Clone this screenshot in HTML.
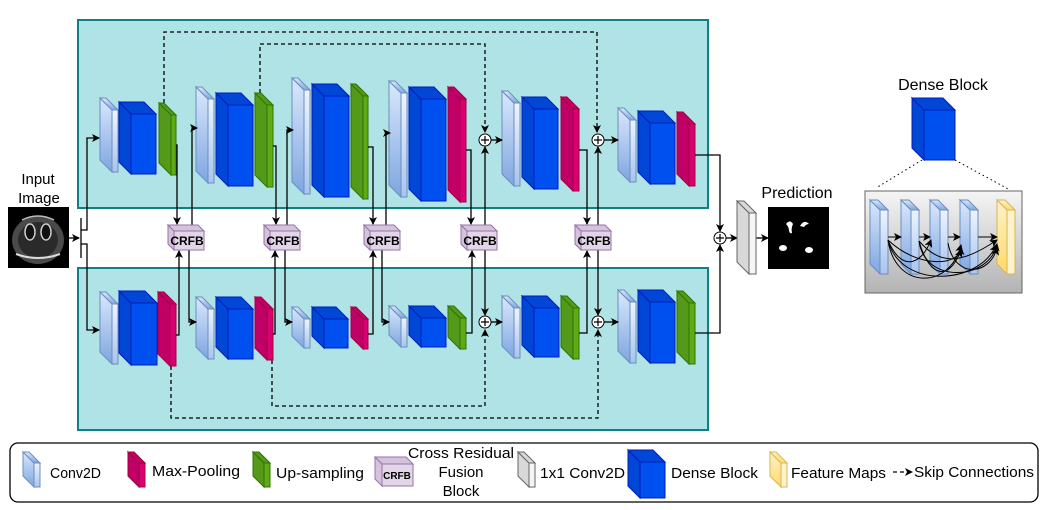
<!DOCTYPE html>
<html><head><meta charset="utf-8"><style>
body{margin:0;background:#fff}
svg{display:block;font-family:"Liberation Sans",sans-serif}
.cv path{fill:url(#gcv);stroke:#6c8ebf;stroke-width:1}
.cv rect{fill:url(#gcf);stroke:#6c8ebf;stroke-width:1}
.db path{fill:#0047d6;stroke:#001dbc}
.db rect{fill:#0050ef;stroke:#001dbc}
.rd path{fill:#c00066;stroke:#a50040}
.rd rect{fill:#d80073;stroke:#a50040}
.gr path{fill:#54991a;stroke:#2d7600}
.gr rect{fill:#60a917;stroke:#2d7600}
.cr path{fill:#d5c3dd;stroke:#9673a6}
.cr rect{fill:#e1d5e7;stroke:#9673a6}
.gy path{fill:#d8d8d8;stroke:#666}
.gy rect{fill:#f5f5f5;stroke:#666}
.yl path{fill:url(#gyl);stroke:#d6b656}
.yl rect{fill:#fff2cc;stroke:#d6b656}
.ln{fill:none;stroke:#000;stroke-width:1.3}
.ds{fill:none;stroke:#000;stroke-width:1.3;stroke-dasharray:4 3}
.ct{font-weight:bold;font-size:12px}
</style></head><body>
<svg width="1046" height="510" viewBox="0 0 1046 510" xmlns="http://www.w3.org/2000/svg">
<defs>
<linearGradient id="gcv" x1="0" y1="0" x2="0" y2="1"><stop offset="0" stop-color="#dae8fc"/><stop offset="1" stop-color="#7ea6e0"/></linearGradient>
<linearGradient id="gcf" x1="0" y1="0" x2="0" y2="1"><stop offset="0" stop-color="#eef4fe"/><stop offset="1" stop-color="#a8c4ee"/></linearGradient>
<linearGradient id="gyl" x1="0" y1="0" x2="0" y2="1"><stop offset="0" stop-color="#fff2cc"/><stop offset="1" stop-color="#ffd966"/></linearGradient>
<linearGradient id="ggb" x1="0" y1="0" x2="0" y2="1"><stop offset="0" stop-color="#f5f5f5"/><stop offset="1" stop-color="#b3b3b3"/></linearGradient>
<marker id="a" markerWidth="8" markerHeight="8" refX="7" refY="4" orient="auto" markerUnits="userSpaceOnUse"><path d="M0,0 L8,4 L0,8 L2,4z" fill="#000"/></marker>
</defs>

<!-- panels -->
<rect x="78" y="20" width="630" height="188" fill="#b0e3e6" stroke="#0e8088" stroke-width="2"/>
<rect x="78" y="268" width="630" height="162" fill="#b0e3e6" stroke="#0e8088" stroke-width="2"/>
<rect x="10" y="443" width="1028" height="59" rx="8" fill="#fff" stroke="#000" stroke-width="1.3"/>

<!-- dashed skips -->
<path class="ds" d="M164 103 V32 H597 V132" marker-end="url(#a)"/>
<path class="ds" d="M260 93 V44 H485 V132" marker-end="url(#a)"/>
<path class="ds" d="M171 366 V418 H598 V330" marker-end="url(#a)"/>
<path class="ds" d="M272 360 V406 H485 V330" marker-end="url(#a)"/>

<!-- conv slabs -->
<g class="cv">
<path d="M100 98 l12 12 v62 l-12 -12z"/><path d="M100 98 h6 l12 12 h-6z"/><rect x="112" y="110" width="6" height="62"/>
<path d="M196 87 l12 12 v84 l-12 -12z"/><path d="M196 87 h6 l12 12 h-6z"/><rect x="208" y="99" width="6" height="84"/>
<path d="M292 78 l12 12 v104 l-12 -12z"/><path d="M292 78 h6 l12 12 h-6z"/><rect x="304" y="90" width="6" height="104"/>
<path d="M389 81 l12 12 v104 l-12 -12z"/><path d="M389 81 h6 l12 12 h-6z"/><rect x="401" y="93" width="6" height="104"/>
<path d="M502 91 l12 12 v83 l-12 -12z"/><path d="M502 91 h6 l12 12 h-6z"/><rect x="514" y="103" width="6" height="83"/>
<path d="M618 108 l12 12 v62 l-12 -12z"/><path d="M618 108 h6 l12 12 h-6z"/><rect x="630" y="120" width="6" height="62"/>
<path d="M100 292 l12 12 v60 l-12 -12z"/><path d="M100 292 h6 l12 12 h-6z"/><rect x="112" y="304" width="6" height="60"/>
<path d="M196 297 l12 12 v50 l-12 -12z"/><path d="M196 297 h6 l12 12 h-6z"/><rect x="208" y="309" width="6" height="50"/>
<path d="M292 307 l12 12 v29 l-12 -12z"/><path d="M292 307 h6 l12 12 h-6z"/><rect x="304" y="319" width="6" height="29"/>
<path d="M389 306 l12 12 v29 l-12 -12z"/><path d="M389 306 h6 l12 12 h-6z"/><rect x="401" y="318" width="6" height="29"/>
<path d="M502 296 l12 12 v50 l-12 -12z"/><path d="M502 296 h6 l12 12 h-6z"/><rect x="514" y="308" width="6" height="50"/>
<path d="M618 290 l12 12 v61 l-12 -12z"/><path d="M618 290 h6 l12 12 h-6z"/><rect x="630" y="302" width="6" height="61"/>
</g>

<!-- dense blocks -->
<g class="db">
<path d="M119 102 l12 12 v60 l-12 -12z"/><path d="M119 102 h25 l12 12 h-25z"/><rect x="131" y="114" width="25" height="60"/>
<path d="M216 93 l12 12 v81 l-12 -12z"/><path d="M216 93 h25 l12 12 h-25z"/><rect x="228" y="105" width="25" height="81"/>
<path d="M312 84 l12 12 v101 l-12 -12z"/><path d="M312 84 h25 l12 12 h-25z"/><rect x="324" y="96" width="25" height="101"/>
<path d="M409 87 l12 12 v102 l-12 -12z"/><path d="M409 87 h25 l12 12 h-25z"/><rect x="421" y="99" width="25" height="102"/>
<path d="M522 97 l12 12 v80 l-12 -12z"/><path d="M522 97 h24 l12 12 h-24z"/><rect x="534" y="109" width="24" height="80"/>
<path d="M638 111 l12 12 v61 l-12 -12z"/><path d="M638 111 h25 l12 12 h-25z"/><rect x="650" y="123" width="25" height="61"/>
<path d="M119 291 l12 12 v62 l-12 -12z"/><path d="M119 291 h26 l12 12 h-26z"/><rect x="131" y="303" width="26" height="62"/>
<path d="M216 297 l12 12 v50 l-12 -12z"/><path d="M216 297 h25 l12 12 h-25z"/><rect x="228" y="309" width="25" height="50"/>
<path d="M312 307 l12 12 v29 l-12 -12z"/><path d="M312 307 h24 l12 12 h-24z"/><rect x="324" y="319" width="24" height="29"/>
<path d="M409 306 l12 12 v29 l-12 -12z"/><path d="M409 306 h25 l12 12 h-25z"/><rect x="421" y="318" width="25" height="29"/>
<path d="M522 296 l12 12 v49 l-12 -12z"/><path d="M522 296 h25 l12 12 h-25z"/><rect x="534" y="308" width="25" height="49"/>
<path d="M638 290 l12 12 v61 l-12 -12z"/><path d="M638 290 h25 l12 12 h-25z"/><rect x="650" y="302" width="25" height="61"/>
<path d="M912 98 l12 12 v50 l-12 -12z"/><path d="M912 98 h31 l12 12 h-31z"/><rect x="924" y="110" width="31" height="50"/>
<path d="M628 450 l12 12 v36 l-12 -12z"/><path d="M628 450 h25 l12 12 h-25z"/><rect x="640" y="462" width="25" height="36"/>
</g>

<!-- green -->
<g class="gr">
<path d="M159 103 l12 12 v60 l-12 -12z"/><path d="M159 103 h5 l12 12 h-5z"/><rect x="171" y="115" width="5" height="60"/>
<path d="M255 93 l12 12 v82 l-12 -12z"/><path d="M255 93 h6 l12 12 h-6z"/><rect x="267" y="105" width="6" height="82"/>
<path d="M351 84 l12 12 v103 l-12 -12z"/><path d="M351 84 h5 l12 12 h-5z"/><rect x="363" y="96" width="5" height="103"/>
<path d="M448 306 l12 12 v31 l-12 -12z"/><path d="M448 306 h6 l12 12 h-6z"/><rect x="460" y="318" width="6" height="31"/>
<path d="M561 296 l12 12 v51 l-12 -12z"/><path d="M561 296 h6 l12 12 h-6z"/><rect x="573" y="308" width="6" height="51"/>
<path d="M677 291 l12 12 v61 l-12 -12z"/><path d="M677 291 h6 l12 12 h-6z"/><rect x="689" y="303" width="6" height="61"/>
<path d="M253 452 l11 11 v24 l-11 -11z"/><path d="M253 452 h6 l11 11 h-6z"/><rect x="264" y="463" width="6" height="24"/>
</g>

<!-- red -->
<g class="rd">
<path d="M448 87 l12 12 v103 l-12 -12z"/><path d="M448 87 h6 l12 12 h-6z"/><rect x="460" y="99" width="6" height="103"/>
<path d="M561 97 l12 12 v82 l-12 -12z"/><path d="M561 97 h6 l12 12 h-6z"/><rect x="573" y="109" width="6" height="82"/>
<path d="M677 112 l12 12 v62 l-12 -12z"/><path d="M677 112 h6 l12 12 h-6z"/><rect x="689" y="124" width="6" height="62"/>
<path d="M158 292 l12 12 v62 l-12 -12z"/><path d="M158 292 h6 l12 12 h-6z"/><rect x="170" y="304" width="6" height="62"/>
<path d="M255 297 l12 12 v51 l-12 -12z"/><path d="M255 297 h6 l12 12 h-6z"/><rect x="267" y="309" width="6" height="51"/>
<path d="M351 307 l12 12 v30 l-12 -12z"/><path d="M351 307 h5 l12 12 h-5z"/><rect x="363" y="319" width="5" height="30"/>
<path d="M128 452 l11 11 v24 l-11 -11z"/><path d="M128 452 h6 l11 11 h-6z"/><rect x="139" y="463" width="6" height="24"/>
</g>

<!-- connectors -->
<path class="ln" d="M69 238 H79" marker-end="url(#a)"/>
<path class="ln" d="M81 218 V258"/>
<path class="ln" d="M81 230 H87 V138 H99" marker-end="url(#a)"/>
<path class="ln" d="M81 244 H87 V330 H99" marker-end="url(#a)"/>
<path class="ln" d="M176 145 H177 V224" marker-end="url(#a)"/>
<path class="ln" d="M192 225 V128 H197" marker-end="url(#a)"/>
<path class="ln" d="M273 146 H276 V224" marker-end="url(#a)"/>
<path class="ln" d="M287 225 V130 H293" marker-end="url(#a)"/>
<path class="ln" d="M368 147 H373 V224" marker-end="url(#a)"/>
<path class="ln" d="M386 225 V133 H390" marker-end="url(#a)"/>
<path class="ln" d="M466 150 H471 V224" marker-end="url(#a)"/>
<path class="ln" d="M485 225 V147" marker-end="url(#a)"/>
<path class="ln" d="M579 150 H587 V224" marker-end="url(#a)"/>
<path class="ln" d="M598 225 V147" marker-end="url(#a)"/>
<path class="ln" d="M491 140 H502" marker-end="url(#a)"/>
<path class="ln" d="M604 140 H618" marker-end="url(#a)"/>
<path class="ln" d="M695 155 H720 V231" marker-end="url(#a)"/>
<path class="ln" d="M176 335 H179 V251" marker-end="url(#a)"/>
<path class="ln" d="M189 250 V322 H196" marker-end="url(#a)"/>
<path class="ln" d="M273 334 H275 V251" marker-end="url(#a)"/>
<path class="ln" d="M285 250 V322 H292" marker-end="url(#a)"/>
<path class="ln" d="M368 334 H373 V251" marker-end="url(#a)"/>
<path class="ln" d="M382 250 V322 H389" marker-end="url(#a)"/>
<path class="ln" d="M466 333 H472 V251" marker-end="url(#a)"/>
<path class="ln" d="M485 250 V315" marker-end="url(#a)"/>
<path class="ln" d="M579 333 H587 V251" marker-end="url(#a)"/>
<path class="ln" d="M598 250 V315" marker-end="url(#a)"/>
<path class="ln" d="M491 322 H502" marker-end="url(#a)"/>
<path class="ln" d="M604 322 H618" marker-end="url(#a)"/>
<path class="ln" d="M695 333 H720 V245" marker-end="url(#a)"/>
<path class="ln" d="M726 238 H737" marker-end="url(#a)"/>
<path class="ln" d="M756 238 H768" marker-end="url(#a)"/>

<!-- plus circles -->
<g fill="#fff" stroke="#000" stroke-width="1">
<circle cx="485" cy="140" r="6"/><circle cx="598" cy="140" r="6"/>
<circle cx="485" cy="322" r="6"/><circle cx="598" cy="322" r="6"/>
<circle cx="720" cy="238" r="6"/>
</g>
<g stroke="#000" stroke-width="1.2">
<path d="M481 140h8M485 136v8M594 140h8M598 136v8M481 322h8M485 318v8M594 322h8M598 318v8M716 238h8M720 234v8"/>
</g>

<!-- CRFB -->
<g class="cr">
<path d="M168 225 l6 6 v19 l-6 -6z"/><path d="M168 225 h30 l6 6 h-30z"/><rect x="174" y="231" width="30" height="19"/>
<path d="M264 225 l6 6 v19 l-6 -6z"/><path d="M264 225 h30 l6 6 h-30z"/><rect x="270" y="231" width="30" height="19"/>
<path d="M364 225 l6 6 v19 l-6 -6z"/><path d="M364 225 h30 l6 6 h-30z"/><rect x="370" y="231" width="30" height="19"/>
<path d="M461 225 l6 6 v19 l-6 -6z"/><path d="M461 225 h30 l6 6 h-30z"/><rect x="467" y="231" width="30" height="19"/>
<path d="M575 225 l6 6 v19 l-6 -6z"/><path d="M575 225 h30 l6 6 h-30z"/><rect x="581" y="231" width="30" height="19"/>
<path d="M375 457 l7 7 v22 l-7 -7z"/><path d="M375 457 h31 l7 7 h-31z"/><rect x="382" y="464" width="31" height="22"/>
</g>
<g class="ct">
<text x="187" y="245" text-anchor="middle">CRFB</text>
<text x="283" y="245" text-anchor="middle">CRFB</text>
<text x="383" y="245" text-anchor="middle">CRFB</text>
<text x="480" y="245" text-anchor="middle">CRFB</text>
<text x="594" y="245" text-anchor="middle">CRFB</text>
<text x="397" y="479" text-anchor="middle" style="font-size:10px">CRFB</text>
</g>

<!-- input image -->
<text x="38" y="184" font-size="15" text-anchor="middle">Input</text>
<text x="39" y="203" font-size="15" text-anchor="middle">Image</text>
<rect x="8" y="207" width="61" height="61" fill="#000"/>
<ellipse cx="38" cy="240" rx="26" ry="24" fill="#4a4a4a"/>
<ellipse cx="38" cy="240" rx="20" ry="18" fill="#2a2a2a"/>
<ellipse cx="30" cy="232" rx="5" ry="8" fill="#111" stroke="#ccc" stroke-width="1.5"/>
<ellipse cx="46" cy="232" rx="5" ry="8" fill="#111" stroke="#ccc" stroke-width="1.5"/>
<path d="M16 254 Q38 262 60 254" stroke="#ddd" stroke-width="2" fill="none"/>
<path d="M22 220 Q38 212 54 220" stroke="#bbb" stroke-width="1.5" fill="none"/>

<!-- 1x1 conv -->
<g class="gy">
<path d="M737 201 l12 12 v61 l-12 -12z"/><path d="M737 201 h7 l12 12 h-7z"/><rect x="749" y="213" width="7" height="61"/>
<path d="M518 452 l11 11 v24 l-11 -11z"/><path d="M518 452 h6 l11 11 h-6z"/><rect x="529" y="463" width="6" height="24"/>
</g>

<!-- prediction -->
<text x="797" y="198" font-size="16" text-anchor="middle">Prediction</text>
<rect x="768" y="207" width="61" height="62" fill="#000"/>
<g fill="#fff">
<path d="M786 224 q4 -5 7 0 q-2 4 -1 9 q-2 1 -3 -2 q0 -4 -3 -7z"/>
<path d="M800 226 q4 -7 9 -2 q-3 0 -5 3 z"/>
<ellipse cx="783" cy="248" rx="4" ry="3"/>
<ellipse cx="809" cy="250" rx="4" ry="3"/>
</g>

<!-- dense block detail -->
<text x="943" y="90" font-size="16" text-anchor="middle">Dense Block</text>
<path d="M922 160 L876 188 M955 160 L1010 190" stroke="#000" stroke-dasharray="1.5 3" fill="none"/>
<rect x="865" y="191" width="157" height="102" fill="url(#ggb)" stroke="#666"/>
<g class="cv">
<path d="M870 200 l10 10 v64 l-10 -10z"/><path d="M870 200 h8 l10 10 h-8z"/><rect x="880" y="210" width="8" height="64"/>
<path d="M901 200 l10 10 v64 l-10 -10z"/><path d="M901 200 h8 l10 10 h-8z"/><rect x="911" y="210" width="8" height="64"/>
<path d="M930 200 l10 10 v64 l-10 -10z"/><path d="M930 200 h8 l10 10 h-8z"/><rect x="940" y="210" width="8" height="64"/>
<path d="M960 200 l10 10 v64 l-10 -10z"/><path d="M960 200 h8 l10 10 h-8z"/><rect x="970" y="210" width="8" height="64"/>
<path d="M23 452 l11 11 v24 l-11 -11z"/><path d="M23 452 h6 l11 11 h-6z"/><rect x="34" y="463" width="6" height="24"/>
</g>
<g class="yl">
<path d="M997 200 l10 10 v64 l-10 -10z"/><path d="M997 200 h8 l10 10 h-8z"/><rect x="1007" y="210" width="8" height="64"/>
<path d="M770 452 l11 11 v24 l-11 -11z"/><path d="M770 452 h6 l11 11 h-6z"/><rect x="781" y="463" width="6" height="24"/>
</g>
<g fill="none" stroke="#000" stroke-width="1">
<path d="M888 237 H901" marker-end="url(#a)"/>
<path d="M919 237 H930" marker-end="url(#a)"/>
<path d="M948 237 H960" marker-end="url(#a)"/>
<path d="M978 237 H997" marker-end="url(#a)"/>
<path d="M888 240 C900 270 920 268 931 240" marker-end="url(#a)"/>
<path d="M888 240 C895 290 950 290 961 245" marker-end="url(#a)"/>
<path d="M888 240 C900 290 980 285 996 245" marker-end="url(#a)"/>
<path d="M888 240 C920 270 960 265 961 248" marker-end="url(#a)"/>
<path d="M919 241 C925 285 990 280 997 244" marker-end="url(#a)"/>
<path d="M919 241 C940 265 960 265 997 240" marker-end="url(#a)"/>
<path d="M948 243 C955 280 990 275 997 248" marker-end="url(#a)"/>
<path d="M919 241 C930 280 950 280 961 250" marker-end="url(#a)"/>
</g>

<!-- legend text -->
<g font-size="15">
<text x="50" y="478" textLength="51" lengthAdjust="spacingAndGlyphs">Conv2D</text>
<text x="152" y="476" textLength="88" lengthAdjust="spacingAndGlyphs">Max-Pooling</text>
<text x="276" y="478" textLength="88" lengthAdjust="spacingAndGlyphs">Up-sampling</text>
<text x="461" y="458" text-anchor="middle" textLength="106" lengthAdjust="spacingAndGlyphs">Cross Residual</text>
<text x="461" y="477" text-anchor="middle">Fusion</text>
<text x="461" y="496" text-anchor="middle">Block</text>
<text x="540" y="478" textLength="85" lengthAdjust="spacingAndGlyphs">1x1 Conv2D</text>
<text x="671" y="478" textLength="87" lengthAdjust="spacingAndGlyphs">Dense Block</text>
<text x="791" y="478" textLength="95" lengthAdjust="spacingAndGlyphs">Feature Maps</text>
<text x="914" y="477" textLength="120" lengthAdjust="spacingAndGlyphs">Skip Connections</text>
</g>
<path d="M893 472 H912" class="ds" stroke-dasharray="3 2" marker-end="url(#a)"/>
</svg>
</body></html>
